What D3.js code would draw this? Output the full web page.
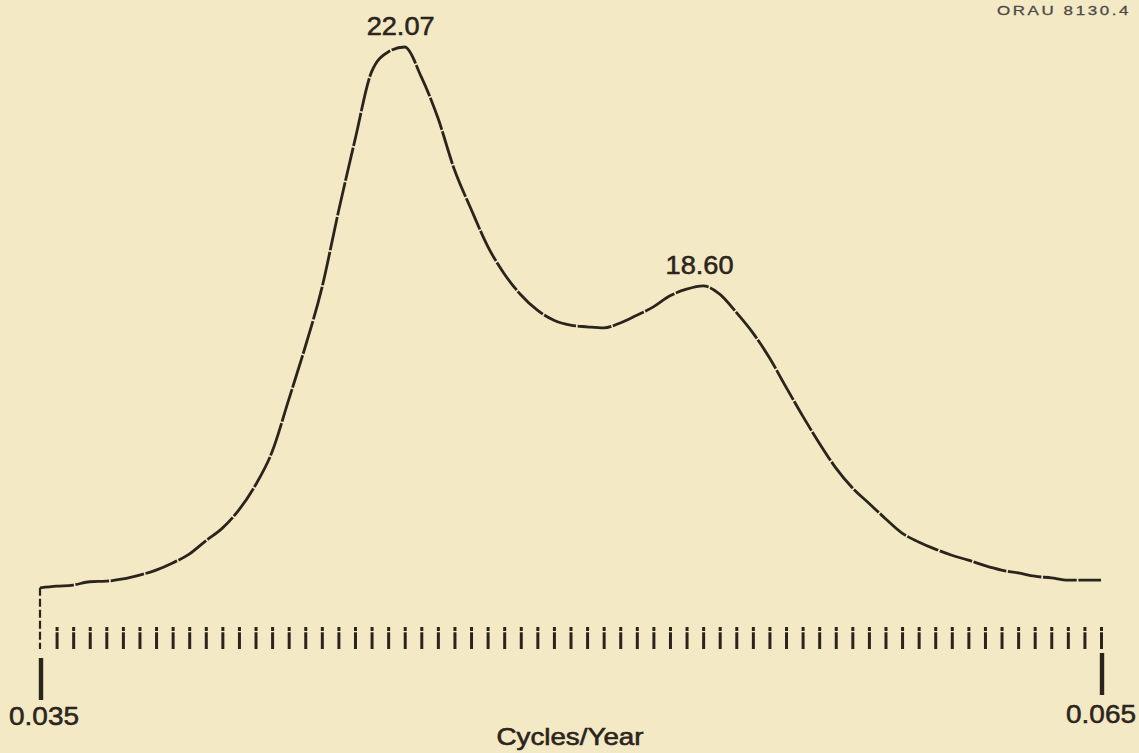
<!DOCTYPE html>
<html>
<head>
<meta charset="utf-8">
<script src="https://cdn.jsdelivr.net/npm/d3@7"></script>
<style>
  html, body { margin: 0; padding: 0; background: #f3e9c5; }
  svg { display: block; }
  text { font-family: "Liberation Sans", Arial, sans-serif; fill: #2b241c; stroke: #2b241c; stroke-width: 0.55px; }
</style>
</head>
<body>
<svg id="chart" width="1139" height="753"></svg>
<script>
// Frequency band of the spectrum (cycles per year) and number of estimates
const freqDomain = [0.035, 0.065];
const binCount = 64;

// Relative spectral power at each of the 65 frequency estimates (peak = 100)
const power = [
  2.2, 2.5, 2.7, 3.3, 3.4, 3.8, 4.5, 5.4, 6.7, 8.3,
  10.7, 13.0, 16.3, 20.8, 26.8, 36.2, 45.8, 56.4, 70.2, 83.2,
  95.5, 99.1, 100.0, 94.6, 87.2, 77.8, 70.7, 64.0, 59.0, 55.2,
  52.4, 50.6, 49.7, 49.4, 49.2, 50.1, 51.5, 53.0, 55.0, 56.2,
  56.8, 55.3, 52.0, 48.3, 43.8, 38.5, 33.3, 28.4, 23.9, 20.3,
  17.5, 14.7, 12.1, 10.5, 9.2, 8.1, 7.2, 6.2, 5.4, 4.9,
  4.3, 4.0, 3.6, 3.6, 3.6
];

// Periods (years) of the two spectral peaks
const peakPeriods = [22.07, 18.60];

// End labels of the frequency axis
const axisEndLabels = ["0.035", "0.065"];
const axisTitle = "Cycles/Year";
const figureId = "ORAU 8130.4";

const freqs = power.map((_, i) => freqDomain[0] + i * (freqDomain[1] - freqDomain[0]) / binCount);
const series = freqs.map((f, i) => ({ f, p: power[i] }));

const svg = d3.select("#chart");
const ink = "#2b241c";

const x = d3.scaleLinear().domain(freqDomain).range([40, 1101]);
const y = d3.scaleLinear().domain([0, 100]).range([600, 47]);

// Left boundary: dashed drop from the first estimate to the tick row
svg.append("line")
  .attr("x1", x(freqDomain[0])).attr("x2", x(freqDomain[0]))
  .attr("y1", y(power[0])).attr("y2", 649)
  .attr("stroke", ink).attr("stroke-width", 2.2)
  .attr("stroke-dasharray", "8,3");

// Spectrum trace
const line = d3.line()
  .x(d => x(d.f))
  .y(d => y(d.p))
  .curve(d3.curveMonotoneX);

svg.append("path")
  .datum(series)
  .attr("d", line)
  .attr("fill", "none")
  .attr("stroke", ink)
  .attr("stroke-width", 2.8)
  .attr("stroke-linejoin", "round")
  .attr("stroke-dasharray", "34,1.6");

// Tick for every frequency estimate
const axis = d3.axisBottom(x)
  .tickValues(freqs.slice(1))
  .tickSize(22)
  .tickFormat("");
const gAxis = svg.append("g")
  .attr("transform", "translate(0,627)")
  .call(axis);
gAxis.select(".domain").remove();
gAxis.selectAll(".tick line")
  .attr("stroke", ink)
  .attr("stroke-width", 3)
  .attr("stroke-dasharray", "4,1.2,17");

// Heavy end markers with their labels
const ends = [
  { f: freqDomain[0], label: axisEndLabels[0], y1: 658, y2: 700, ty: 725, dx: 4 },
  { f: freqDomain[1], label: axisEndLabels[1], y1: 653, y2: 695, ty: 723, dx: 0 }
];
svg.selectAll("line.end").data(ends).enter().append("line")
  .attr("class", "end")
  .attr("x1", d => x(d.f) + 1).attr("x2", d => x(d.f) + 1)
  .attr("y1", d => d.y1).attr("y2", d => d.y2)
  .attr("stroke", ink).attr("stroke-width", 4.4);
svg.selectAll("text.end").data(ends).enter().append("text")
  .attr("class", "end")
  .attr("x", d => x(d.f) + d.dx)
  .attr("y", d => d.ty)
  .attr("text-anchor", "middle")
  .attr("font-size", 26)
  .attr("textLength", 70)
  .attr("lengthAdjust", "spacingAndGlyphs")
  .text(d => d.label);

// Axis title
svg.append("text")
  .attr("x", 570).attr("y", 745)
  .attr("text-anchor", "middle")
  .attr("font-size", 24)
  .attr("textLength", 147)
  .attr("lengthAdjust", "spacingAndGlyphs")
  .style("stroke-width", "0.6px")
  .text(axisTitle);

// Peak period labels
const peaks = peakPeriods.map(p => {
  const f = 1 / p;
  const i = d3.minIndex(freqs, v => Math.abs(v - f));
  return { p, f, v: power[i] };
});
svg.selectAll("text.peak").data(peaks).enter().append("text")
  .attr("class", "peak")
  .attr("x", d => x(d.f) - 4)
  .attr("y", d => y(d.v) - 12)
  .attr("text-anchor", "middle")
  .attr("font-size", 26)
  .attr("textLength", 68)
  .attr("lengthAdjust", "spacingAndGlyphs")
  .text(d => d.p.toFixed(2));

// Figure identifier
svg.append("text")
  .attr("x", 997).attr("y", 15)
  .attr("font-size", 13)
  .attr("textLength", 134)
  .attr("lengthAdjust", "spacingAndGlyphs")
  .style("fill", "#4e4a45")
  .style("stroke", "#4e4a45")
  .style("stroke-width", "0.3px")
  .style("letter-spacing", "2px")
  .text(figureId);
</script>
</body>
</html>
